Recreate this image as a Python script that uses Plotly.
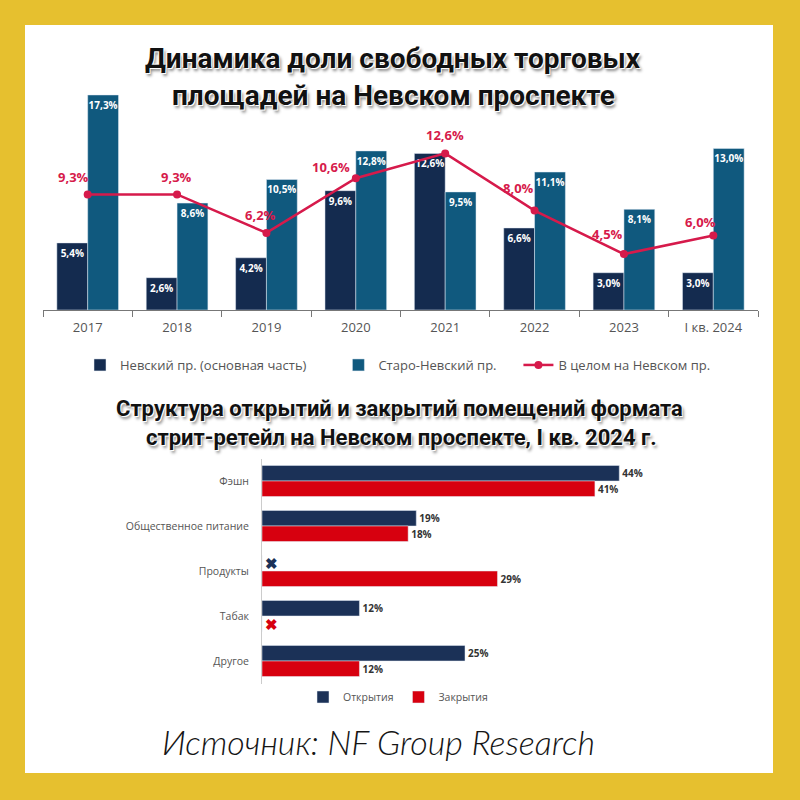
import plotly.graph_objects as go

# ---------------- data ----------------
years = ["2017", "2018", "2019", "2020", "2021", "2022", "2023", "I кв. 2024"]
nevsky_main = [5.4, 2.6, 4.2, 9.6, 12.6, 6.6, 3.0, 3.0]
staro_nevsky = [17.3, 8.6, 10.5, 12.8, 9.5, 11.1, 8.1, 13.0]
nevsky_total = [9.3, 9.3, 6.2, 10.6, 12.6, 8.0, 4.5, 6.0]

categories = ["Фэшн", "Общественное питание", "Продукты", "Табак", "Другое"]
openings = [44, 19, 0, 12, 25]
closings = [41, 18, 29, 0, 12]

# label offsets (px) for the total-line labels
line_label_dx = [-14, -1, -6, -25, 0, -16, -16, -13]
line_label_dy = [17, 17, 18, 11, 18, 23, 20, 13]

NAVY = "#142B4F"
TEAL = "#10597E"
LINE_RED = "#D61A4B"
BAR_NAVY = "#1B3157"
BAR_RED = "#D7000F"
GOLD = "#E6C02F"
NBSP = "\u00a0"


def fmt1(v):
    return f"{v:.1f}".replace(".", ",") + "%"


def px_x(p):
    return p / 800


def px_y(p):
    return 1 - p / 800


fig = go.Figure()

# ---------------- top chart ----------------
fig.add_trace(go.Bar(
    x=years, y=nevsky_main, name="Невский пр. (основная часть)" + NBSP * 8,
    marker_color=NAVY, text=[fmt1(v) for v in nevsky_main],
    textposition="inside", insidetextanchor="end", textangle=0,
    constraintext="none",
    textfont=dict(color="white", size=10, family="Open Sans", weight="bold"),
    xaxis="x", yaxis="y", legend="legend",
))
fig.add_trace(go.Bar(
    x=years, y=staro_nevsky, name="Старо-Невский пр." + NBSP * 5,
    marker_color=TEAL, text=[fmt1(v) for v in staro_nevsky],
    textposition="inside", insidetextanchor="end", textangle=0,
    constraintext="none",
    textfont=dict(color="white", size=10, family="Open Sans", weight="bold"),
    xaxis="x", yaxis="y", legend="legend",
))
fig.add_trace(go.Scatter(
    x=years, y=nevsky_total, name="В целом на Невском пр.",
    mode="lines+markers", line=dict(color=LINE_RED, width=2.5),
    marker=dict(color=LINE_RED, size=8),
    xaxis="x", yaxis="y", legend="legend",
))

annotations = []
for i, (v, dx, dy) in enumerate(zip(nevsky_total, line_label_dx, line_label_dy)):
    annotations.append(dict(
        x=i, y=v, xref="x", yref="y", text=fmt1(v), showarrow=False,
        xshift=dx, yshift=dy, xanchor="center", yanchor="middle",
        font=dict(color=LINE_RED, size=13, family="Open Sans", weight="bold"),
    ))

# ---------------- bottom chart ----------------
def bar_texts(vals):
    return ["✖" if v == 0 else f"{v}%" for v in vals]


def bar_text_colors(vals, c):
    return [c if v == 0 else "#333333" for v in vals]


def bar_text_sizes(vals):
    return [15 if v == 0 else 10 for v in vals]


fig.add_trace(go.Bar(
    y=categories, x=openings, orientation="h", name="Открытия",
    marker_color=BAR_NAVY, text=bar_texts(openings), textposition="outside",
    cliponaxis=False, constraintext="none",
    textfont=dict(color=bar_text_colors(openings, BAR_NAVY),
                  size=bar_text_sizes(openings), family="Open Sans", weight="bold"),
    xaxis="x2", yaxis="y2", legend="legend2",
))
fig.add_trace(go.Bar(
    y=categories, x=closings, orientation="h", name="Закрытия",
    marker_color=BAR_RED, text=bar_texts(closings), textposition="outside",
    cliponaxis=False, constraintext="none",
    textfont=dict(color=bar_text_colors(closings, BAR_RED),
                  size=bar_text_sizes(closings), family="Open Sans", weight="bold"),
    xaxis="x2", yaxis="y2", legend="legend2",
))

TITLE_FONT = "Roboto, sans-serif"
TITLE_SHADOW = "1px 1px 0px #ffffff, -1px -1px 0px #ffffff, 2px 3px 3px rgba(0,0,0,0.45)"


def title_ann(text, cx, cy, size):
    return dict(x=px_x(cx), y=px_y(cy), xref="paper", yref="paper", showarrow=False,
                xanchor="center", yanchor="middle", text=text,
                font=dict(size=size, color="#111111", family=TITLE_FONT, weight="bold",
                          shadow=TITLE_SHADOW))


annotations += [
    title_ann("Динамика доли свободных торговых", 393, 58, 28),
    title_ann("площадей на Невском проспекте", 393, 95, 28),
    title_ann("Структура открытий и закрытий помещений формата", 399, 408, 22),
    title_ann("стрит-ретейл на Невском проспекте, I кв. 2024 г.", 401, 437, 22),
    dict(x=px_x(378), y=px_y(741), xref="paper", yref="paper", showarrow=False,
         xanchor="center", yanchor="middle",
         text="Источник: NF Group Research",
         font=dict(size=34, color="#151515", family="Lato", style="italic", weight=300)),
]

fig.update_layout(
    width=800, height=800,
    margin=dict(l=0, r=0, t=0, b=0),
    paper_bgcolor=GOLD, plot_bgcolor="rgba(0,0,0,0)",
    barmode="group", bargap=0.31,
    font=dict(family="Open Sans", color="#555555"),
    shapes=[dict(type="rect", xref="paper", yref="paper",
                 x0=px_x(25), x1=px_x(773), y0=px_y(773), y1=px_y(25),
                 fillcolor="white", line=dict(width=0), layer="below")],
    annotations=annotations,
    xaxis=dict(domain=[px_x(43), px_x(758)], type="category", range=[-0.5, 7.5],
               showline=True, linecolor="#777777", linewidth=1,
               ticks="outside", tickson="boundaries", ticklen=6, tickcolor="#777777",
               ticklabelstandoff=5,
               tickfont=dict(size=13, color="#555555"), showgrid=False, anchor="y",
               fixedrange=True),
    yaxis=dict(domain=[px_y(310), px_y(310 - 18 * 12.43)], range=[0, 18], visible=False,
               anchor="x", fixedrange=True),
    xaxis2=dict(domain=[px_x(262), px_x(262 + 50 * 8.12)], range=[0, 50], visible=False,
                anchor="y2", fixedrange=True),
    yaxis2=dict(domain=[px_y(683.5), px_y(458.5)], range=[4.5, -0.5], type="category",
                showline=True, linecolor="#cccccc", linewidth=1, ticks="",
                ticklabelstandoff=10, tickfont=dict(size=10.5, color="#555555"),
                showgrid=False, anchor="x2", fixedrange=True),
    legend=dict(orientation="h", x=px_x(80), y=px_y(365), xanchor="left", yanchor="middle",
                font=dict(size=13, color="#555555"), bgcolor="rgba(0,0,0,0)",
                traceorder="normal"),
    legend2=dict(orientation="h", x=px_x(398), y=px_y(697), xanchor="center", yanchor="middle",
                 font=dict(size=10.5, color="#555555"), bgcolor="rgba(0,0,0,0)",
                 traceorder="normal"),
    showlegend=True,
)

fig.write_html("out.html")
